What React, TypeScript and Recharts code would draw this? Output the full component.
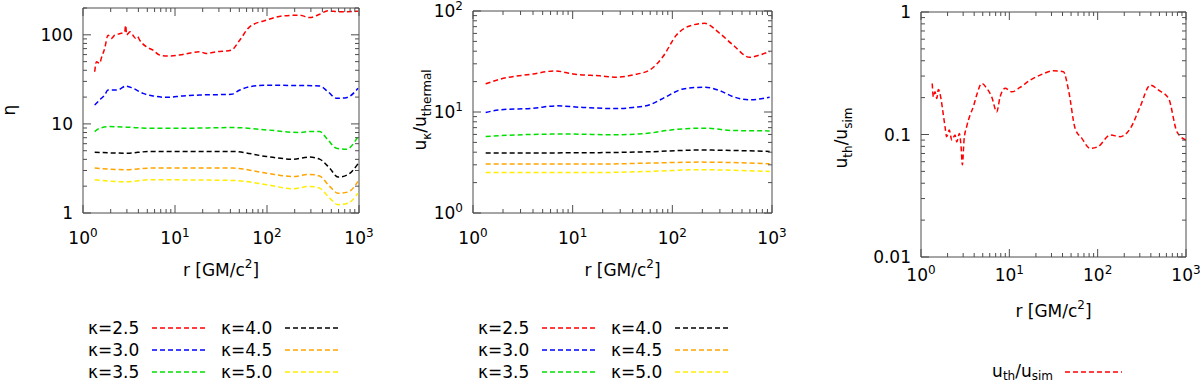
import React from 'react'
import { LineChart, Line, XAxis, YAxis, Legend, ReferenceArea } from 'recharts'

const FONT = "'DejaVu Sans', sans-serif"
const FRAME = '#4d4d4d'
const DASH = '5 3'
const AXIS_H = 30
const AXIS_W = 60

const kappaNames = ['κ=2.5', 'κ=3.0', 'κ=3.5', 'κ=4.0', 'κ=4.5', 'κ=5.0']
const kappaColors = ['#ff0000', '#0000ff', '#00e000', '#000000', '#ffa500', '#ffee00']

// panel 1: eta vs r, [r, eta]
const etaK25 = [[1.34, 38.5], [1.4, 49.9], [1.52, 47.8], [1.58, 54.4], [1.72, 70.3], [1.87, 99], [2.03, 91], [2.21, 99], [2.5, 103], [2.84, 108], [2.91, 128], [2.98, 100], [3.08, 103], [3.25, 108], [3.49, 99], [3.7, 92], [3.9, 96], [4.13, 87], [4.88, 73.4], [5.77, 67.3], [6.81, 59.2], [8.75, 57.7], [12.2, 60.2], [18.5, 64.5], [21.9, 61.8], [28.1, 64.5], [40.9, 67.3], [50.5, 87], [64.8, 123], [98.4, 146], [149, 163], [226, 166], [291, 156], [373, 170], [460, 186], [616, 181], [975, 184]]
const etaK30 = [[1.34, 16.3], [1.52, 18.6], [1.72, 21.1], [1.87, 24], [2.21, 24], [2.5, 24.5], [2.91, 26.6], [3.49, 25.1], [4.49, 22], [5.77, 20.6], [8.05, 19.9], [12.2, 20.6], [18.5, 21.1], [40.9, 21.5], [50.5, 24], [64.8, 26.2], [98.4, 27.1], [226, 27], [373, 26.6], [460, 23], [567, 19.4], [728, 19.7], [975, 25.1]]
const etaK35 = [[1.34, 8.2], [1.52, 8.94], [1.95, 9.33], [2.96, 9.2], [5.3, 8.94], [12.2, 8.94], [42.7, 9.1], [98.4, 8.57], [226, 8.0], [291, 8.2], [373, 8.2], [460, 6.6], [567, 5.34], [728, 5.2], [975, 7.2]]
const etaK40 = [[1.34, 4.82], [2.96, 4.69], [5.3, 4.9], [42.7, 4.9], [98.4, 4.31], [192, 4.02], [291, 4.24], [373, 4.02], [480, 3.19], [591, 2.53], [759, 2.7], [975, 3.57]]
const etaK45 = [[1.34, 3.19], [2.96, 3.06], [5.3, 3.19], [42.7, 3.19], [98.4, 2.8], [192, 2.57], [291, 2.71], [373, 2.6], [480, 1.99], [591, 1.67], [759, 1.72], [975, 2.26]]
const etaK50 = [[1.34, 2.36], [2.96, 2.24], [5.3, 2.36], [42.7, 2.32], [98.4, 2.08], [192, 1.87], [291, 1.99], [373, 1.9], [480, 1.47], [591, 1.24], [759, 1.29], [975, 1.67]]

// panel 2: u_kappa / u_thermal vs r
const ukK25 = [[1.34, 19], [1.85, 21.1], [4.0, 23.8], [6.6, 25.5], [10.1, 23.8], [18.7, 22.8], [27.4, 22.1], [40.3, 23.3], [59.3, 26.1], [80.6, 35.4], [110, 57.9], [149, 71.1], [211, 75.5], [298, 60.2], [406, 46.1], [597, 34.8], [752, 36.7], [947, 39.6]]
const ukK30 = [[1.34, 9.89], [1.85, 10.5], [4.0, 10.9], [6.86, 11.5], [12.7, 11.1], [27.4, 10.8], [40.3, 11.1], [59.3, 11.8], [87, 14.2], [128, 16.9], [211, 17.6], [298, 16.3], [406, 14.2], [597, 13.2], [947, 14.0]]
const ukK35 = [[1.34, 5.73], [4.0, 6.0], [8.64, 6.05], [27.4, 5.95], [59.3, 6.18], [87, 6.56], [211, 6.92], [406, 6.56], [947, 6.5]]
const ukK40 = [[1.34, 3.92], [18.7, 3.96], [59.3, 4.04], [188, 4.2], [947, 4.07]]
const ukK45 = [[1.34, 3.05], [18.7, 3.05], [59.3, 3.12], [188, 3.19], [947, 3.07]]
const ukK50 = [[1.34, 2.52], [18.7, 2.52], [59.3, 2.58], [188, 2.68], [947, 2.58]]

// panel 3: u_th / u_sim vs r
const uthUsim = [[1.34, 0.261], [1.38, 0.203], [1.44, 0.223], [1.51, 0.197], [1.57, 0.233], [1.67, 0.203], [1.76, 0.158], [1.87, 0.116], [1.95, 0.096], [2.09, 0.109], [2.23, 0.09], [2.43, 0.099], [2.54, 0.087], [2.72, 0.102], [2.84, 0.08], [2.94, 0.0565], [3.07, 0.09], [3.29, 0.116], [3.59, 0.144], [3.92, 0.169], [4.27, 0.21], [4.87, 0.261], [5.55, 0.238], [6.32, 0.203], [7.2, 0.153], [7.86, 0.203], [8.96, 0.238], [10.7, 0.223], [13.2, 0.242], [17.2, 0.278], [22.3, 0.305], [31.6, 0.331], [41.0, 0.325], [46.8, 0.23], [55.6, 0.112], [66.2, 0.093], [82.3, 0.077], [102, 0.08], [139, 0.099], [180, 0.096], [234, 0.112], [303, 0.169], [394, 0.253], [490, 0.23], [635, 0.197], [791, 0.105], [1000, 0.09]]

const rMajors = [1, 10, 100, 1000]
const rLabels = [['10', '0'], ['10', '1'], ['10', '2'], ['10', '3']]
const etaMajors = [1, 10, 100]
const etaLabels = [['1'], ['10'], ['100']]
const ukMajors = [1, 10, 100]
const ukLabels = [['10', '0'], ['10', '1'], ['10', '2']]
const uthMajors = [0.01, 0.1, 1]
const uthLabels = [['0.01'], ['0.1'], ['1']]

// 1..9 per decade between the majors, cut at max
const logTicks = (majors: number[], max: number) => {
  const out: number[] = []
  majors.forEach((m) => {
    for (let d = 1; d <= 9; d++) {
      const v = Number((d * m).toPrecision(6))
      if (v <= max + 1e-9) out.push(v)
    }
  })
  return out.filter((v, i, a) => a.indexOf(v) === i)
}

const toRows = (pairs: number[][]) => pairs.map(([r, v]) => ({ r, v }))

function Lab({ lab }: { lab: string[] }) {
  return (
    <>
      {lab[0]}
      {lab[1] !== undefined && <tspan dy={-7} fontSize={12}>{lab[1]}</tspan>}
    </>
  )
}

function BottomTick(props: any) {
  const { x, payload, majors, labels, top, bottom, labelY } = props
  const i = majors.indexOf(payload.value)
  const len = i >= 0 ? 8 : 4
  return (
    <g>
      <line x1={x} x2={x} y1={bottom} y2={bottom - len} stroke={FRAME} />
      <line x1={x} x2={x} y1={top} y2={top + len} stroke={FRAME} />
      {i >= 0 && (
        <text x={x} y={labelY} textAnchor="middle" fontFamily={FONT} fontSize={17} fill="#000">
          <Lab lab={labels[i]} />
        </text>
      )}
    </g>
  )
}

function LeftTick(props: any) {
  const { y, payload, majors, labels, left, right } = props
  const i = majors.indexOf(payload.value)
  const len = i >= 0 ? 8 : 4
  return (
    <g>
      <line x1={left} x2={left + len} y1={y} y2={y} stroke={FRAME} />
      <line x1={right} x2={right - len} y1={y} y2={y} stroke={FRAME} />
      {i >= 0 && (
        <text x={left - 10} y={y + 6} textAnchor="end" fontFamily={FONT} fontSize={17} fill="#000">
          <Lab lab={labels[i]} />
        </text>
      )}
    </g>
  )
}

function KappaLegend({ payload }: any) {
  return (
    <div
      style={{
        display: 'grid',
        gridAutoFlow: 'column',
        gridTemplateRows: 'repeat(3, 22px)',
        gridTemplateColumns: 'repeat(2, max-content)',
        columnGap: 15,
        fontFamily: FONT,
        fontSize: 17,
        color: '#000',
      }}
    >
      {(payload || []).map((p: any) => (
        <div key={p.value} style={{ display: 'flex', alignItems: 'center' }}>
          <span style={{ width: 64, lineHeight: '22px' }}>{p.value}</span>
          <svg width={54} height={4}>
            <line x1={0} x2={54} y1={2} y2={2} stroke={p.color} strokeWidth={1.5} strokeDasharray={DASH} />
          </svg>
        </div>
      ))}
    </div>
  )
}

function RatioLegend({ payload }: any) {
  const p = (payload || [])[0]
  if (!p) return null
  return (
    <div style={{ display: 'flex', alignItems: 'center', justifyContent: 'flex-end', fontFamily: FONT, fontSize: 17, color: '#000', height: 20, lineHeight: '20px' }}>
      <span style={{ marginRight: 12 }}>
        u<span style={{ fontSize: 12, position: 'relative', top: 3 }}>th</span>/u
        <span style={{ fontSize: 12, position: 'relative', top: 3 }}>sim</span>
      </span>
      <svg width={57} height={4}>
        <line x1={0} x2={57} y1={2} y2={2} stroke={p.color} strokeWidth={1.5} strokeDasharray={DASH} />
      </svg>
    </div>
  )
}

const xTitle = (cx: number, y: number) => (
  <text x={cx} y={y} textAnchor="middle" fontFamily={FONT} fontSize={17} fill="#000">
    r [GM/c<tspan dy={-8} fontSize={12}>2</tspan>
    <tspan dy={8}>]</tspan>
  </text>
)

type PanelProps = {
  box: { l: number; r: number; t: number; b: number }
  yDomain: [number, number]
  yMajors: number[]
  yLabels: string[][]
  tickLabelY: number
  titleY: number
  yTitle: React.ReactNode
  series: { name: string; color: string; data: number[][] }[]
  legend: React.ReactElement
  legendBox: { left: number; top: number; width: number }
}

function Panel({ box, yDomain, yMajors, yLabels, tickLabelY, titleY, yTitle, series, legend, legendBox }: PanelProps) {
  const xTicks = logTicks(rMajors, 1000)
  const yTicks = logTicks(yMajors, yDomain[1])
  return (
    <div style={{ position: 'absolute', left: 0, top: 0 }}>
      <LineChart
        width={1200}
        height={383}
        margin={{ left: box.l - AXIS_W, right: 1200 - box.r, top: box.t, bottom: 383 - box.b - AXIS_H }}
      >
        <XAxis
          xAxisId="x"
          dataKey="r"
          type="number"
          scale="log"
          domain={[1, 1000]}
          allowDataOverflow
          ticks={xTicks}
          interval={0}
          height={AXIS_H}
          tickSize={0}
          tickMargin={0}
          tickLine={false}
          axisLine={false}
          tick={<BottomTick majors={rMajors} labels={rLabels} top={box.t} bottom={box.b} labelY={tickLabelY} />}
          label={{ content: () => xTitle((box.l + box.r) / 2, titleY) }}
        />
        <YAxis
          yAxisId="y"
          type="number"
          scale="log"
          domain={yDomain}
          allowDataOverflow
          ticks={yTicks}
          interval={0}
          width={AXIS_W}
          tickSize={0}
          tickMargin={0}
          tickLine={false}
          axisLine={false}
          tick={<LeftTick majors={yMajors} labels={yLabels} left={box.l} right={box.r} />}
          label={{ content: () => yTitle }}
        />
        <ReferenceArea
          xAxisId="x"
          yAxisId="y"
          x1={1}
          x2={1000}
          y1={yDomain[0]}
          y2={yDomain[1]}
          fill="none"
          stroke={FRAME}
          strokeWidth={1}
          ifOverflow="visible"
        />
        {series.map((s) => (
          <Line
            key={s.name}
            xAxisId="x"
            yAxisId="y"
            data={toRows(s.data)}
            dataKey="v"
            name={s.name}
            type="monotone"
            stroke={s.color}
            strokeWidth={1.5}
            strokeDasharray={DASH}
            dot={false}
            activeDot={false}
            isAnimationActive={false}
          />
        ))}
        <Legend
          layout="horizontal"
          verticalAlign="middle"
          align="center"
          wrapperStyle={{ left: legendBox.left, top: legendBox.top, width: legendBox.width }}
          content={legend}
        />
      </LineChart>
    </div>
  )
}

const etaSeries = [etaK25, etaK30, etaK35, etaK40, etaK45, etaK50].map((data, i) => ({ name: kappaNames[i], color: kappaColors[i], data }))
const ukSeries = [ukK25, ukK30, ukK35, ukK40, ukK45, ukK50].map((data, i) => ({ name: kappaNames[i], color: kappaColors[i], data }))

export default function App() {
  return (
    <div style={{ position: 'absolute', left: 0, top: 0, width: 1200, height: 383, background: '#fff', overflow: 'hidden' }}>
      <Panel
        box={{ l: 83, r: 359, t: 8, b: 213 }}
        yDomain={[1, 200]}
        yMajors={etaMajors}
        yLabels={etaLabels}
        tickLabelY={244}
        titleY={276}
        yTitle={
          <text x={15} y={110} transform="rotate(-90 15 110)" textAnchor="middle" fontFamily={FONT} fontSize={17} fill="#000">
            η
          </text>
        }
        series={etaSeries}
        legend={<KappaLegend />}
        legendBox={{ left: 88, top: 317, width: 280 }}
      />
      <Panel
        box={{ l: 473, r: 772, t: 11, b: 213 }}
        yDomain={[1, 100]}
        yMajors={ukMajors}
        yLabels={ukLabels}
        tickLabelY={244}
        titleY={276}
        yTitle={
          <text x={426} y={110} transform="rotate(-90 426 110)" textAnchor="middle" fontFamily={FONT} fontSize={17} fill="#000">
            u<tspan dy={5} fontSize={12}>κ</tspan>
            <tspan dy={-5}>/u</tspan>
            <tspan dy={5} fontSize={12}>thermal</tspan>
          </text>
        }
        series={ukSeries}
        legend={<KappaLegend />}
        legendBox={{ left: 478, top: 317, width: 280 }}
      />
      <Panel
        box={{ l: 921, r: 1186, t: 12, b: 257 }}
        yDomain={[0.01, 1]}
        yMajors={uthMajors}
        yLabels={uthLabels}
        tickLabelY={281}
        titleY={317}
        yTitle={
          <text x={847} y={138} transform="rotate(-90 847 138)" textAnchor="middle" fontFamily={FONT} fontSize={17} fill="#000">
            u<tspan dy={5} fontSize={12}>th</tspan>
            <tspan dy={-5}>/u</tspan>
            <tspan dy={5} fontSize={12}>sim</tspan>
          </text>
        }
        series={[{ name: 'uth/usim', color: '#ff0000', data: uthUsim }]}
        legend={<RatioLegend />}
        legendBox={{ left: 960, top: 362, width: 162 }}
      />
    </div>
  )
}
